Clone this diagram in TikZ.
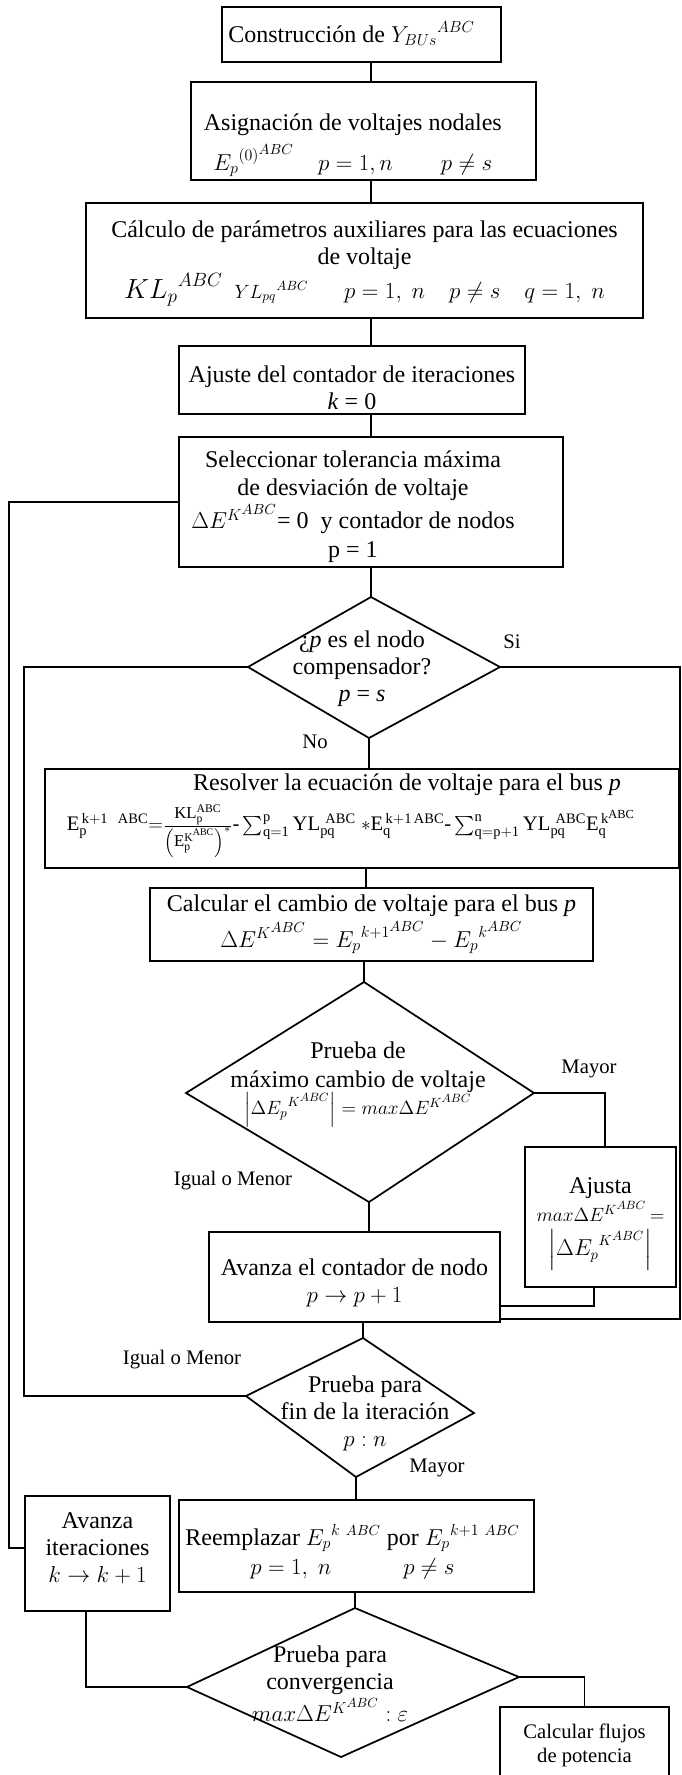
\documentclass[tikz,border=0pt]{standalone}
\usepackage{amsmath}
\usepackage{fontspec}
\setmainfont{Liberation Serif}
% slightly larger second-level indices (ABC over K)
\DeclareMathSizes{20}{20}{14}{12}
\DeclareMathSizes{18}{18}{12.6}{10.8}
\DeclareMathSizes{16.5}{16.5}{11.55}{9.9}
\DeclareMathSizes{16}{16}{11.2}{9.6}
\DeclareMathSizes{15.5}{15.5}{10.85}{9.3}
\DeclareMathSizes{15}{15}{10.5}{9}
\DeclareMathSizes{14.5}{14.5}{10.15}{8.7}
\DeclareMathSizes{14}{14}{9.8}{8.4}
\DeclareMathSizes{12.5}{12.5}{8.75}{7.5}
\newcommand{\flowfont}{\fontsize{18}{20.25}\selectfont}
\newcommand{\tagfont}{\fontsize{15.5}{18}\selectfont}
\newcommand{\eqfont}{\fontsize{15.5}{18}\selectfont}
\newcommand{\fracpart}[1]{\mbox{\fontsize{12.5}{14}\selectfont$#1$}}
% text block whose baseline is its first line; optional trailing space shifts it left
\newcommand{\tb}[2][0pt]{\begin{tabular}[t]{@{}c@{\hspace{#1}}}#2\end{tabular}}
\begin{document}
\begin{tikzpicture}[x=0.75pt,y=-0.75pt,line width=1.3pt,
  box/.style={draw,line width=1.3pt,inner sep=0pt,font=\flowfont},
  sz/.style 2 args={minimum width={#1*0.75pt},minimum height={#2*0.75pt}},
  txt/.style={inner sep=0pt,font=\flowfont},
  lbl/.style={inner sep=0pt,font=\tagfont}]
\useasboundingbox (0,0) rectangle (682,1775);

% ---------- process boxes ----------
\node[box,sz={279}{55},text height=11.25pt,text depth=0pt] (b1) at (361.5,34.5)
  {\tb[15pt]{Construcción de ${Y_{BUs}}^{ABC}$}};
\node[box,sz={345}{98},text height=0pt,text depth=1.5pt] (b2) at (363.5,131)
  {\tb[16pt]{Asignación de voltajes nodales\\[5pt]
  ${E_p}^{(0)^{ABC}}$\quad $p=1,n$\qquad $p\neq s$}};
\node[box,sz={557}{115},text height=0pt,text depth=35.25pt] (b3) at (364.5,260.5)
  {\tb{Cálculo de parámetros auxiliares para las ecuaciones\\
  de voltaje\\[1pt]
  {\fontsize{20}{20.25}\selectfont${KL_p}^{ABC}$}\enspace{\fontsize{14}{20.25}\selectfont${YL_{pq}}^{ABC}$}\quad\enspace
  $p=1,\ n\quad p\neq s\quad q=1,\ n$}};
\node[box,sz={346}{68},text height=3pt,text depth=0pt] (b4) at (352,380)
  {\tb{Ajuste del contador de iteraciones\\ \textit{k} = 0}};
\node[box,sz={384}{130},text height=0pt,text depth=52.5pt] (b5) at (371,502)
  {\tb[27pt]{Seleccionar tolerancia máxima\\[0.75pt]
  de desviación de voltaje\\[1pt]
  $\Delta E^{K^{ABC}}$= 0\ \ y contador de nodos\\[1.5pt] p = 1}};
\node[box,sz={634}{99},text height=0pt,text depth=42.75pt] (b6) at (362,818.5)
  {\tb[16.5pt]{\hspace*{84pt}Resolver la ecuación de voltaje para el bus \textit{p}\\[5pt]
  {\eqfont $\mathrm{E_p^{\,k+1\ \ ABC}}{=}\frac{\fracpart{\mathrm{KL_p^{ABC}}}}{\fracpart{\left(\mathrm{E_p^{K^{ABC}}}\right)^{*}}}\mbox{-}\,{\textstyle\sum_{\mathrm{q=1}}^{\mathrm{p}}}\,\mathrm{YL_{pq}^{\ ABC}}\ {*}\mathrm{E_q^{\,k+1\,ABC}}\mbox{-}\,{\textstyle\sum_{\mathrm{q=p+1}}^{\mathrm{n}}}\,\mathrm{YL_{pq}^{\ ABC}E_q^{\,k^{ABC}}}$}}};
\node[box,sz={443}{73},text height=0pt,text depth=20.25pt] (b7) at (371.5,924.5)
  {\tb{Calcular el cambio de voltaje para el bus \textit{p}\\[2pt]
  $\Delta E^{K^{ABC}} = {E_p}^{k+1^{ABC}} - {E_p}^{k^{ABC}}$}};
\node[box,sz={151}{140},text height=0pt,text depth=36pt] (aj) at (600.5,1217)
  {\tb{Ajusta\\ {\fontsize{14.5}{20.25}\selectfont$max\Delta E^{K^{ABC}}\,{=}$}\\
  {\fontsize{16}{20.25}\selectfont$\left|\Delta {E_p}^{K^{ABC}}\right|$}}};
\node[box,sz={291}{90},text height=0pt,text depth=3pt] (avn) at (354.5,1277)
  {\tb{Avanza el contador de nodo\\ $p\rightarrow p+1$}};
\node[box,sz={355}{92},text height=0pt,text depth=1.5pt] (rem) at (356.5,1546)
  {\tb[6pt]{Reemplazar ${E_p}^{k\ \scriptscriptstyle ABC}$ por ${E_p}^{k+1\ \scriptscriptstyle ABC}$\\[1.5pt]
  $p=1,\ n\qquad\quad p\neq s$}};
\node[box,sz={145}{115},text height=0pt,text depth=38.25pt] (ait) at (97.5,1553.5)
  {\tb{Avanza\\ iteraciones\\ $k\rightarrow k+1$}};
\node[box,sz={169}{73},font=\tagfont,text height=0pt,text depth=8.25pt] (cf) at (584.5,1743.5)
  {\tb{Calcular flujos\\ de potencia}};

% ---------- decision diamonds ----------
\coordinate (d1t) at (371,597);  \coordinate (d1r) at (500,667);
\coordinate (d1b) at (369,738);  \coordinate (d1l) at (248,667);
\draw (d1t) -- (d1r) -- (d1b) -- (d1l) -- cycle;
\node[txt,text height=0pt,text depth=30pt] (d1x) at (362,667)
  {\tb{¿\textit{p} es el nodo\\ compensador?\\ \textit{p} = \textit{s}}};

\coordinate (d2t) at (364,982);  \coordinate (d2r) at (534,1093);
\coordinate (d2b) at (369,1202); \coordinate (d2l) at (186,1093);
\draw (d2t) -- (d2r) -- (d2b) -- (d2l) -- cycle;
\node[txt,text height=0pt,text depth=34.5pt] (d2x) at (358,1081)
  {\tb{Prueba de\\[1.5pt] máximo cambio de voltaje\\[-2pt]
  {\fontsize{14.5}{20.25}\selectfont$\left|\Delta {E_p}^{K^{ABC}}\right| = max\Delta E^{K^{ABC}}$}}};

\coordinate (d3t) at (363,1338);  \coordinate (d3r) at (474,1413);
\coordinate (d3b) at (356,1477);  \coordinate (d3l) at (246,1396);
\draw (d3t) -- (d3r) -- (d3b) -- (d3l) -- cycle;
\node[txt,text height=0pt,text depth=33pt] (d3x) at (365,1414)
  {\tb{Prueba para\\ fin de la iteración\\ $p:n$}};

\coordinate (d4t) at (355,1608);  \coordinate (d4r) at (519,1677);
\coordinate (d4b) at (341,1757);  \coordinate (d4l) at (187,1687);
\draw (d4t) -- (d4r) -- (d4b) -- (d4l) -- cycle;
\node[txt,text height=0pt,text depth=36pt] (d4x) at (330,1686)
  {\tb{Prueba para\\ convergencia\\[1pt]
  {\fontsize{16.5}{20.25}\selectfont$max\Delta E^{K^{ABC}}:\varepsilon$}}};

% ---------- main flow ----------
\coordinate (ax) at (371,0);
\coordinate (ax2) at (366,0);
\draw (b1.south -| ax) -- (b2.north -| ax);
\draw (b2.south -| ax) -- (b3.north -| ax);
\draw (b3.south -| ax) -- (b4.north -| ax);
\draw (b4.south -| ax) -- (b5.north -| ax);
\draw (b5.south -| ax) -- (d1t);
\draw (d1b) -- (d1b |- b6.north);
\draw (b6.south -| ax2) -- (b7.north -| ax2);
\draw (b7.south -| d2t) -- (d2t);
\draw (d2b) -- (d2b |- avn.north);
\draw (avn.south -| d3t) -- (d3t);
\draw (d3b) -- (d3b |- rem.north);
\draw (rem.south -| d4t) -- (d4t);

% ---------- loops and branches ----------
\coordinate (outerL) at (9,0);
\coordinate (innerL) at (24,0);
\coordinate (outerR) at (680,0);
\coordinate (mayX) at (605,0);
\coordinate (ajOut) at (594,0);
\coordinate (aiDown) at (86,0);
\coordinate (joinA) at (500,1306);
\coordinate (joinB) at (500,1319);
\coordinate (aiIn) at (25,1548);

\draw (b5.west) -- (b5.west -| outerL) -- (outerL |- aiIn) -- (aiIn);
\draw (d1l) -- (d1l -| innerL) -- (innerL |- d3l) -- (d3l);
\draw (d1r) -- (d1r -| outerR) -- (outerR |- joinB) -- (joinB);
\draw (d2r) -- (d2r -| mayX) -- (mayX |- aj.north);
\draw (ajOut |- aj.south) -- (ajOut |- joinA) -- (joinA);
\draw (d4l) -- (d4l -| aiDown) -- (aiDown |- ait.south);
\draw (d4r) -| (cf.north);

% ---------- branch labels ----------
\node[lbl] (si) at (512,642) {Si};
\node[lbl] (no) at (315,742) {No};
\node[lbl] (may1) at (589,1069) {Mayor};
\node[lbl] (igm1) at (233,1181) {Igual o Menor};
\node[lbl] (igm2) at (182,1360) {Igual o Menor};
\node[lbl] (may2) at (437,1468) {Mayor};
\end{tikzpicture}
\end{document}
